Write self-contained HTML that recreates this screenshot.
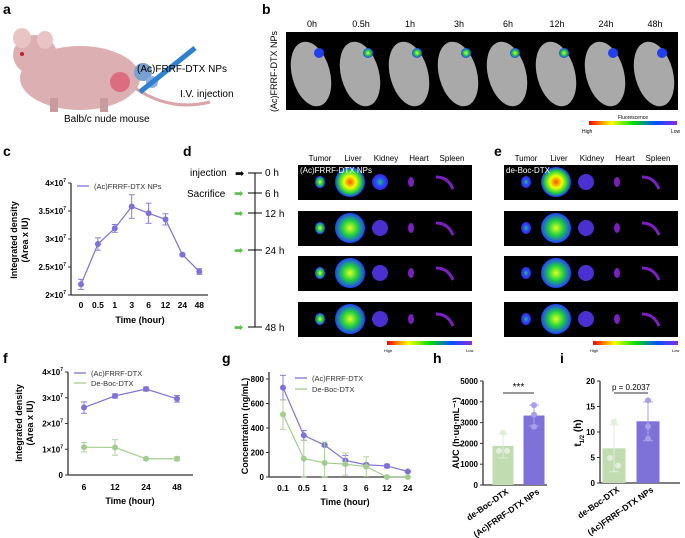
<!DOCTYPE html>
<html><head><meta charset="utf-8"><style>
body{margin:0;background:#fff}
svg{display:block;font-family:"Liberation Sans",Arial,sans-serif}
</style></head><body>
<svg id="fig" width="685" height="538" viewBox="0 0 685 538">
<defs>
<linearGradient id="cb" x1="0" x2="1"><stop offset="0" stop-color="#ff0000"/><stop offset="0.25" stop-color="#ffff00"/><stop offset="0.5" stop-color="#00e000"/><stop offset="0.75" stop-color="#0050ff"/><stop offset="1" stop-color="#8a2be2"/></linearGradient>
<radialGradient id="hot"><stop offset="0" stop-color="#ff5000"/><stop offset="0.4" stop-color="#f0ff00"/><stop offset="0.75" stop-color="#20d040"/><stop offset="1" stop-color="#2030ff"/></radialGradient>
<radialGradient id="mid"><stop offset="0" stop-color="#e0ff20"/><stop offset="0.5" stop-color="#20d040"/><stop offset="1" stop-color="#2040ff"/></radialGradient>
<radialGradient id="low"><stop offset="0" stop-color="#30c060"/><stop offset="0.5" stop-color="#2050ff"/><stop offset="1" stop-color="#4020e0"/></radialGradient>
</defs>
<g font-weight="bold" font-size="14">
<text x="3" y="14">a</text><text x="262" y="14">b</text><text x="3" y="156">c</text><text x="183" y="156">d</text><text x="494" y="156">e</text><text x="3" y="363">f</text><text x="222" y="363">g</text><text x="433" y="363">h</text><text x="560" y="363">i</text>
</g>
<g>
<ellipse cx="80" cy="78" rx="60" ry="32" fill="#dcb0b2"/>
<ellipse cx="35" cy="55" rx="22" ry="20" fill="#dcb0b2"/>
<ellipse cx="22" cy="38" rx="9" ry="10" fill="#e8c4c5"/>
<ellipse cx="45" cy="40" rx="8" ry="9" fill="#e8c4c5"/>
<circle cx="22" cy="54" r="2" fill="#c02030"/>
<path d="M135 88 Q170 112 210 102" stroke="#d8a5a8" stroke-width="3" fill="none"/>
<rect x="50" y="98" width="8" height="14" fill="#c99a9e"/><rect x="100" y="98" width="8" height="14" fill="#c99a9e"/>
<circle cx="120" cy="82" r="10" fill="#e04060" opacity="0.6"/>
<circle cx="143" cy="72" r="9" fill="#7aa0d0"/><circle cx="152" cy="82" r="6" fill="#8ab0e0"/>
<line x1="140" y1="92" x2="195" y2="48" stroke="#3080d0" stroke-width="5"/>
</g>
<g font-size="10">
<text x="137" y="72">(Ac)FRRF-DTX NPs</text><text x="180" y="97">I.V. injection</text><text x="64" y="122">Balb/c nude mouse</text>
</g>
<rect x="286" y="32" width="392" height="78" fill="#000"/>
<g id="mice"></g>
<text x="0" y="0" font-size="9" transform="translate(277,112) rotate(-90)">(Ac)FRRF-DTX NPs</text>
<rect x="589" y="121" width="88" height="4" fill="url(#cb)"/>
<text x="633" y="119" font-size="5" text-anchor="middle">Fluorescence</text>
<text x="582" y="133" font-size="5">High</text><text x="671" y="133" font-size="5">Low</text>
<g id="organs"></g>
<g font-size="10">
<line x1="255" y1="173" x2="255" y2="327" stroke="#000"/>
<text x="190" y="176">injection</text><text x="235" y="177" font-size="11">➡</text>
<text x="187" y="197">Sacrifice</text>
<text x="265" y="176">0 h</text><text x="265" y="197">6 h</text><text x="265" y="217">12 h</text><text x="265" y="254">24 h</text><text x="265" y="331">48 h</text>
</g>
<g id="tl"></g>
<g id="charts"></g>
</svg>
<script>
const NS="http://www.w3.org/2000/svg";
function E(p,t,a,txt){const e=document.createElementNS(NS,t);for(const k in a)e.setAttribute(k,a[k]);if(txt!==undefined)e.textContent=txt;p.appendChild(e);return e;}
const P="#7e72d8",G="#a3cd90";
const tl=document.getElementById('tl');
[173,193,213,250,327].forEach((y,i)=>{E(tl,'line',{x1:248,x2:262,y1:y,y2:y,stroke:'#000'});if(i>0)E(tl,'text',{x:234,y:y+4,'font-size':11,fill:'#5cbf4c'},'➡');});
const timeLabels=["0h","0.5h","1h","3h","6h","12h","24h","48h"];
const mice=document.getElementById('mice');
timeLabels.forEach((t,i)=>{const cx=307+i*49;
 E(mice,'text',{x:cx+5,y:27,'font-size':9,'text-anchor':'middle'},t);
 E(mice,'ellipse',{cx:cx+4,cy:74,rx:19,ry:33,fill:'#a9a9a9',transform:`rotate(-15 ${cx+4} 74)`});
 E(mice,'circle',{cx:cx+12,cy:53,r:5,fill:i<1||i>5?'#2040f0':'url(#mid)'});
});
const org=document.getElementById('organs');
const hdr=["Tumor","Liver","Kidney","Heart","Spleen"],rows=[165,211,256,302];
[[298,"(Ac)FRRF-DTX NPs"],[504,"de-Boc-DTX"]].forEach(([x0,lab],pi)=>{
 hdr.forEach((h,j)=>E(org,'text',{x:x0+22+j*33,y:161,'font-size':8,'text-anchor':'middle'},h));
 rows.forEach((y,r)=>{E(org,'rect',{x:x0,y:y,width:174,height:35,fill:'#000'});
  E(org,'ellipse',{cx:x0+22,cy:y+17,rx:5,ry:6,fill:pi?'url(#low)':'url(#mid)'});
  E(org,'ellipse',{cx:x0+52,cy:y+17,rx:15,ry:15,fill:r==0?'url(#hot)':'url(#mid)'});
  E(org,'ellipse',{cx:x0+82,cy:y+17,rx:8,ry:8,fill:r==0&&!pi?'url(#low)':'#4a30d0'});
  E(org,'ellipse',{cx:x0+113,cy:y+17,rx:3,ry:5,fill:'#7a20c0'});
  E(org,'path',{d:`M${x0+138} ${y+12} Q${x0+150} ${y+12} ${x0+155} ${y+24}`,stroke:'#7a20c0','stroke-width':3,fill:'none'});
 });
 E(org,'text',{x:x0+2,y:173,'font-size':8,fill:'#fff'},lab);
 E(org,'rect',{x:x0+89,y:341,width:85,height:4,fill:'url(#cb)'});
 E(org,'text',{x:x0+86,y:352,'font-size':4},'High');E(org,'text',{x:x0+168,y:352,'font-size':4},'Low');
});

// ---------- DATA ----------
const cCats=["0","0.5","1","3","6","12","24","48"];
const cVals=[2.19,2.91,3.19,3.58,3.46,3.35,2.72,2.42];
const cErr=[0.09,0.11,0.07,0.21,0.18,0.10,0.02,0.05];
const cTicks=[2,2.5,3,3.5,4];
const fCats=["6","12","24","48"];
const fA=[2.62,3.07,3.34,2.96], fAe=[0.22,0.08,0.08,0.13];
const fB=[1.08,1.07,0.63,0.63], fBe=[0.18,0.30,0.03,0.08];
const fTicks=[0,1,2,3,4];
const gCats=["0.1","0.5","1","3","6","12","24"];
const gA=[730,340,260,135,100,90,45], gAe=[100,40,10,40,10,15,5];
const gB=[510,150,115,105,85,0,0], gBe=[120,150,170,90,80,0,0];
const gTicks=[0,200,400,600,800];
const hCats=["de-Boc-DTX","(Ac)FRRF-DTX NPs"];
const hMeans=[1880,3340], hSD=[580,500];
const hPts=[[2520,1640,1640],[3840,3380,2800]];
const hTicks=[0,1000,2000,3000,4000,5000];
const iMeans=[6.8,12.1], iSD=[4.6,3.8];
const iPts=[[12,4.9,3.4],[16.2,11.1,8.7]];
const iTicks=[0,5,10,15,20];

const ch=document.getElementById('charts');
function axes(g,x0,x1,y0,y1,ticks,ys,fmt){
 const ya=E(g,'line',{x1:x0,x2:x0,y1:y1,y2:y0,stroke:'#333','stroke-width':1.3});
 
 const xa=E(g,'line',{x1:x0,x2:x1,y1:y0,y2:y0,stroke:'#333','stroke-width':1.3});
 
 ticks.forEach(t=>{const y=ys(t);E(g,'line',{x1:x0-3,x2:x0,y1:y,y2:y,stroke:'#333'});
  const tx=E(g,'text',{x:x0-5,y:y+3,'font-size':8,'font-weight':'bold','text-anchor':'end'});
  tx.innerHTML=fmt(t);
  });
}
function e7(t){if(t===0)return '0';return t+'×10<tspan font-size="5" dy="-4">7</tspan>';}
function series(g,xs,vals,errs,ys,col,name){
 const pl=E(g,'polyline',{points:vals.map((v,i)=>xs(i)+','+ys(v)).join(' '),fill:'none',stroke:col,'stroke-width':1.2});
 
 vals.forEach((v,i)=>{const x=xs(i);
  E(g,'line',{x1:x,x2:x,y1:ys(v+errs[i]),y2:ys(Math.max(0,v-errs[i])),stroke:col,'stroke-width':0.9});
  [v+errs[i],Math.max(0,v-errs[i])].forEach(w=>E(g,'line',{x1:x-3,x2:x+3,y1:ys(w),y2:ys(w),stroke:col,'stroke-width':0.9}));
  const c=E(g,'circle',{cx:x,cy:ys(v),r:3,fill:col});
  });
}
function xlabels(g,cats,xs,y){cats.forEach((c,i)=>{const t=E(g,'text',{x:xs(i),y:y,'font-size':8.5,'font-weight':'bold','text-anchor':'middle'},c);
 });}
function legend(g,x,y,col,txt){E(g,'line',{x1:x,x2:x+12,y1:y,y2:y,stroke:col,'stroke-width':1.3});E(g,'text',{x:x+17,y:y+3,'font-size':7.5,fill:'#333'},txt);}
function ytitle(g,x,y,lines){const t=E(g,'text',{transform:`translate(${x},${y}) rotate(-90)`,'font-size':9,'font-weight':'bold','text-anchor':'middle'});
 lines.forEach((l,i)=>{E(t,'tspan',{x:0,dy:i?11:0},l);});}

{const g=E(ch,'g',{});
 const ys=v=>295-(v-2)/2*112, xs=i=>81+i*16.9;
 axes(g,71,208,295,183,cTicks,ys,e7);
 series(g,xs,cVals,cErr,ys,P,'c-series');
 xlabels(g,cCats,xs,308);legend(g,77,186,P,'(Ac)FRRF-DTX NPs');
 E(g,'text',{x:140,y:323,'font-size':9,'font-weight':'bold','text-anchor':'middle'},'Time (hour)');
 ytitle(g,17,240,['Integrated density','(Area x IU)']);}
{const g=E(ch,'g',{});
 const ys=v=>475-v/4*103, xs=i=>84+i*31;
 axes(g,68,193,475,372,fTicks,ys,e7);
 series(g,xs,fA,fAe,ys,P,'f-frrf');series(g,xs,fB,fBe,ys,G,'f-deboc');
 xlabels(g,fCats,xs,490);legend(g,74,373,P,'(Ac)FRRF-DTX');legend(g,74,383,G,'De-Boc-DTX');
 E(g,'text',{x:130,y:504,'font-size':9,'font-weight':'bold','text-anchor':'middle'},'Time (hour)');
 ytitle(g,22,423,['Integrated density','(Area x IU)']);}
{const g=E(ch,'g',{});
 const ys=v=>477-v/800*98, xs=i=>283+i*20.8;
 axes(g,269,409,477,372,gTicks,ys,t=>String(t));
 series(g,xs,gA,gAe,ys,P,'g-frrf');series(g,xs,gB,gBe,ys,G,'g-deboc');
 xlabels(g,gCats,xs,491);legend(g,295,378,P,'(Ac)FRRF-DTX');legend(g,295,389,G,'De-Boc-DTX');
 E(g,'text',{x:345,y:505,'font-size':9,'font-weight':'bold','text-anchor':'middle'},'Time (hour)');
 ytitle(g,248,426,['Concentration (ng/mL)']);}
function bars(name,x0,x1,y0,y1,ticks,max,means,sd,pts,cx,bw,annot){
 const g=E(ch,'g',{});
 const ys=v=>y0-v/max*(y0-y1);
 axes(g,x0,x1,y0,y1,ticks,ys,t=>String(t));
 const cols=["#c0dcb0","#7e72d8"],pc=["#e2eedb","#a99fe6"];
 means.forEach((m,i)=>{const x=cx[i];
  const b=E(g,'rect',{x:x-bw/2,y:ys(m),width:bw,height:y0-ys(m),fill:cols[i]});
  
  E(g,'line',{x1:x,x2:x,y1:ys(m+sd[i]),y2:ys(m-sd[i]),stroke:pc[i],'stroke-width':1});
  [m+sd[i],m-sd[i]].forEach(w=>E(g,'line',{x1:x-5,x2:x+5,y1:ys(w),y2:ys(w),stroke:pc[i]}));
  pts[i].forEach((p,k)=>E(g,'circle',{cx:x+(k==1?-4:k==2?4:0)*(i?0:1),cy:ys(p),r:3,fill:pc[i]}));
  const t=E(g,'text',{transform:`translate(${x+6},${y0+8}) rotate(-35)`,'font-size':8.5,'font-weight':'bold','text-anchor':'end'},hCats[i]);
  
 });
 E(g,'line',{x1:cx[0],x2:cx[1],y1:y1+12,y2:y1+12,stroke:'#333'});
 E(g,'text',{x:(cx[0]+cx[1])/2,y:y1+9,'font-size':annot.length>4?8:10,'text-anchor':'middle'},annot);
 return g;}
{const g=bars('chart-h',483,547,485,381,hTicks,5000,hMeans,hSD,hPts,[503,534],21,"***");
 ytitle(g,459,433,['AUC (h·ug·mL⁻¹)']);}
{const g=bars('chart-i',600,680,483,381,iTicks,20,iMeans,iSD,iPts,[614,648],23,"p = 0.2037");
 const t=E(g,'text',{transform:'translate(581,433) rotate(-90)','font-size':10,'font-weight':'bold','text-anchor':'middle'});t.innerHTML='t<tspan font-size="6" dy="3">1/2</tspan><tspan dy="-3"> (h)</tspan>';
 }
</script>
</body></html>
